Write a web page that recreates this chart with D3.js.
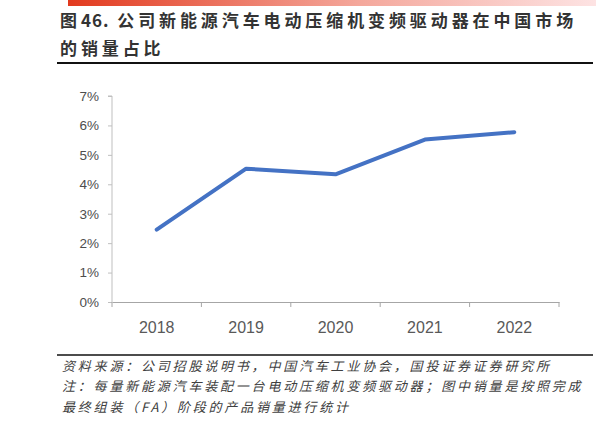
<!DOCTYPE html>
<html>
<head>
<meta charset="utf-8">
<script src="https://cdn.jsdelivr.net/npm/d3@7"></script>
<style>
  html, body { margin: 0; padding: 0; background: #fff; }
  svg { display: block; }
</style>
</head>
<body>
<svg id="chart" width="596" height="426"></svg>
<script>
const years = ['2018', '2019', '2020', '2021', '2022'];
const shareValues = [2.46, 4.53, 4.34, 5.52, 5.77];
const yTicks = [0, 1, 2, 3, 4, 5, 6, 7];
const titleLines = [
    [['图', 3.9], ['46.', 1], [' 公司新能源汽车电动压缩机变频驱动器在中国市场', 3.9]],
    [['的销量占比', 3.9]]
];
const noteLines = [
    '资料来源：公司招股说明书，中国汽车工业协会，国投证券证券研究所',
    '注：每量新能源汽车装配一台电动压缩机变频驱动器；图中销量是按照完成',
    '最终组装（FA）阶段的产品销量进行统计'
];

const svg = d3.select('#chart');
const cjk = '"Noto Sans CJK SC", "Noto Sans", sans-serif';
const latin = '"Liberation Sans", Arial, sans-serif';
const labelColor = '#595959';

// red fading bar on top
const grad = svg.append('defs').append('linearGradient').attr('id', 'topbar')
    .attr('x1', '0%').attr('x2', '100%');
grad.append('stop').attr('offset', '0%').attr('stop-color', '#e23a1e');
grad.append('stop').attr('offset', '55%').attr('stop-color', '#f4a79b');
grad.append('stop').attr('offset', '100%').attr('stop-color', '#fde3e3');
svg.append('rect').attr('x', 68).attr('y', 0).attr('width', 528).attr('height', 6)
    .attr('fill', 'url(#topbar)');

const title = svg.selectAll('.title-line').data(titleLines)
    .join('text').attr('class', 'title-line')
    .attr('x', 60).attr('y', (d, i) => 27 + i * 27.5)
    .attr('font-family', cjk).attr('font-size', 17).attr('font-weight', 'bold')
    .attr('fill', '#333');
title.selectAll('tspan').data(d => d)
    .join('tspan')
    .attr('letter-spacing', d => d[1])
    .text(d => d[0]);

svg.append('line').attr('x1', 57).attr('x2', 593).attr('y1', 63).attr('y2', 63)
    .attr('stroke', '#111').attr('stroke-width', 2);

const x = d3.scaleBand().domain(years).range([112, 559]).padding(0);
const y = d3.scaleLinear().domain([0, 7]).range([302, 96]);

// y axis
const yAxis = svg.append('g').attr('transform', 'translate(112,0)')
    .call(d3.axisLeft(y).tickValues(yTicks).tickFormat(d => d + '%').tickSize(4).tickPadding(9));
yAxis.select('.domain').attr('stroke', '#bfbfbf').attr('d', `M-4,${y(7)}H0V${y(0)}`);
yAxis.selectAll('.tick line').attr('stroke', '#bfbfbf');
yAxis.selectAll('.tick text').attr('fill', '#4d4d4d')
    .attr('font-family', latin).attr('font-size', 13.5);

// x axis
const xAxis = svg.append('g').attr('transform', `translate(0,${y(0)})`)
    .call(d3.axisBottom(x).tickSize(0).tickPadding(20));
xAxis.select('.domain').attr('stroke', '#a6a6a6');
xAxis.selectAll('.tick text').attr('fill', labelColor)
    .attr('font-family', latin).attr('font-size', 16);
const bounds = years.map(d => x(d)).concat([x.range()[1]]);
xAxis.selectAll('.bound-tick').data(bounds)
    .join('line').attr('class', 'bound-tick')
    .attr('x1', d => d).attr('x2', d => d).attr('y1', 0).attr('y2', 5)
    .attr('stroke', '#a6a6a6');

const line = d3.line()
    .x((d, i) => x(years[i]) + x.bandwidth() / 2)
    .y(d => y(d));
svg.append('path').datum(shareValues)
    .attr('d', line)
    .attr('fill', 'none')
    .attr('stroke', '#4472c4')
    .attr('stroke-width', 4)
    .attr('stroke-linecap', 'round')
    .attr('stroke-linejoin', 'round');

// source / notes
svg.append('line').attr('x1', 57).attr('x2', 593).attr('y1', 355).attr('y2', 355)
    .attr('stroke', '#111').attr('stroke-width', 1.5);
svg.selectAll('.note-line').data(noteLines)
    .join('text').attr('class', 'note-line')
    .attr('x', 62).attr('y', (d, i) => 370.5 + i * 20.5)
    .attr('font-family', cjk).attr('font-size', 13).attr('font-style', 'italic')
    .attr('letter-spacing', 2.8)
    .attr('fill', '#404040')
    .text(d => d);
</script>
</body>
</html>
